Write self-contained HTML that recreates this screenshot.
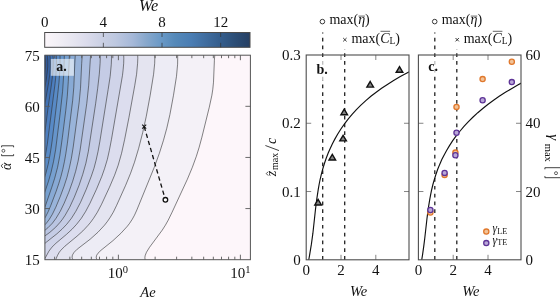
<!DOCTYPE html>
<html><head><meta charset="utf-8"><style>
html,body{margin:0;padding:0;background:#fff;overflow:hidden;}
svg{display:block;will-change:transform;}
text{font-family:"Liberation Serif",serif;fill:#111;}
</style></head><body>
<svg width="560" height="298" viewBox="0 0 560 298">
<defs><clipPath id="clipa"><rect x="44.9" y="55.2" width="205.5" height="204.5"/></clipPath>
<clipPath id="clipb"><rect x="306.2" y="55.0" width="102.8" height="204.8"/></clipPath>
<clipPath id="clipc"><rect x="418.4" y="55.0" width="102.6" height="204.8"/></clipPath>
<linearGradient id="cbg" x1="0" x2="1" y1="0" y2="0"><stop offset="0.0000" stop-color="#fbf6fa"/><stop offset="0.0607" stop-color="#f3f0f6"/><stop offset="0.1429" stop-color="#e6e5f0"/><stop offset="0.2000" stop-color="#dcdcec"/><stop offset="0.2857" stop-color="#c9cfe3"/><stop offset="0.3429" stop-color="#bec8e0"/><stop offset="0.4286" stop-color="#a5b8d8"/><stop offset="0.4929" stop-color="#88a8cc"/><stop offset="0.5714" stop-color="#6898c6"/><stop offset="0.6357" stop-color="#5589b9"/><stop offset="0.7143" stop-color="#4a7db3"/><stop offset="0.7857" stop-color="#406d9f"/><stop offset="0.8571" stop-color="#345d8c"/><stop offset="0.9286" stop-color="#2c4e76"/><stop offset="1.0000" stop-color="#263f63"/></linearGradient></defs>
<g clip-path="url(#clipa)"><rect x="44.9" y="55.2" width="205.5" height="204.5" fill="#fdf6fa"/><path d="M43.9 53.2L214.9 53.2 214.4 60.2 213.5 82.2 212.8 89.2 211.9 95.2 209.3 107.2 201.9 137.2 199.2 147.2 196.4 156.2 192.4 167.2 187.4 179.2 172.1 212.2 168.2 220.2 165.4 225.2 162.2 230.2 149.6 247.2 146.5 252.2 145.3 255.2 144.9 257.2 145.0 259.2 145.6 261.2 42.9 261.2 42.9 53.2Z" fill="#f4f1f7"/><path d="M43.9 53.2L177.6 53.2 177.7 58.2 177.6 64.2 176.5 76.2 173.5 95.2 169.9 114.6 166.8 128.2 163.5 140.2 159.4 153.2 154.3 167.2 136.9 209.9 134.5 215.2 132.3 219.2 129.7 223.2 127.4 226.2 120.9 233.3 112.9 240.7 101.1 250.2 98.0 253.2 96.7 255.2 96.2 257.2 96.6 259.2 98.0 261.2 42.9 261.2 42.9 53.2Z" fill="#edecf5"/><path d="M43.9 53.2L154.7 53.2 154.8 58.2 154.7 63.2 153.6 74.2 150.2 95.2 146.3 116.2 142.8 132.2 138.7 148.2 134.5 162.2 130.6 173.2 125.7 185.2 116.7 205.2 113.3 212.2 110.3 217.2 107.6 221.2 104.5 225.2 98.0 232.2 90.2 239.2 77.2 249.2 74.2 252.2 72.9 254.2 72.4 255.2 72.1 257.2 72.3 258.2 72.7 259.2 73.4 260.2 74.4 261.2 42.9 261.2 42.9 53.2Z" fill="#e4e4f0"/><path d="M43.9 53.2L137.6 53.2 137.7 54.2 137.8 59.2 137.6 64.2 136.4 75.2 134.6 86.2 128.5 120.2 124.5 140.2 121.6 153.2 118.2 165.2 114.6 175.2 109.5 187.2 101.6 204.2 97.4 212.2 93.6 218.2 90.7 222.2 88.2 225.2 82.9 230.9 77.0 236.2 64.9 246.2 60.9 250.2 59.3 252.2 57.6 255.2 56.3 258.2 55.6 261.2 42.9 261.2 42.9 53.2Z" fill="#dcddee"/><path d="M43.9 53.2L123.6 53.2 123.8 59.2 123.3 68.2 122.1 78.2 110.4 145.2 108.3 155.2 106.3 163.2 104.1 170.2 101.1 178.2 95.6 191.2 89.5 204.2 85.2 212.2 81.4 218.2 76.7 224.2 72.1 229.2 66.7 234.2 56.0 243.2 51.9 247.2 48.9 251.2 45.1 258.2 43.1 261.2 42.9 261.2 42.9 53.2Z" fill="#d0d4e9"/><path d="M43.9 53.2L111.4 53.2 111.5 59.2 111.0 68.2 109.7 79.2 99.0 146.2 97.3 155.2 95.4 163.2 93.3 170.2 90.6 178.2 85.5 191.2 80.1 203.2 75.9 211.2 71.5 218.2 66.8 224.2 62.0 229.2 56.9 233.8 46.3 242.2 42.9 245.2 42.9 53.2Z" fill="#c5cce5"/><path d="M43.9 53.2L100.4 53.2 100.1 63.2 99.3 74.2 97.7 88.2 95.7 103.2 88.4 151.2 85.9 163.2 82.8 174.2 79.1 185.2 74.3 197.2 69.7 207.2 65.2 215.2 62.5 219.2 60.2 222.2 55.7 227.2 49.9 232.3 42.9 237.4 42.9 53.2Z" fill="#bac5e2"/><path d="M43.9 53.2L90.7 53.2 88.7 85.2 86.8 103.2 80.1 150.2 78.1 161.2 75.7 171.2 72.7 181.2 68.8 192.2 64.2 203.2 60.3 211.2 56.1 218.2 52.4 223.2 47.9 227.8 42.9 231.9 42.9 53.2Z" fill="#acbedf"/><path d="M43.9 53.2L82.4 53.2 81.7 63.2 80.5 88.2 79.2 102.2 73.2 147.2 71.4 158.2 69.5 167.2 67.0 177.2 64.1 186.2 60.4 196.2 55.8 207.2 52.4 214.2 49.4 219.2 46.4 223.2 42.9 226.8 42.9 53.2Z" fill="#99b4da"/><path d="M43.9 53.2L75.4 53.2 74.8 63.2 73.8 87.2 72.7 100.2 67.4 143.2 65.9 153.2 64.5 161.2 62.8 169.2 61.0 176.2 58.9 183.2 56.2 191.2 50.9 205.2 48.4 211.2 45.9 216.2 42.9 221.0 42.9 53.2Z" fill="#88aad5"/><path d="M43.9 53.2L69.5 53.2 68.3 81.2 67.3 96.2 65.8 110.2 62.4 137.2 59.9 155.2 57.6 167.2 54.7 178.2 51.8 187.2 44.6 208.2 42.9 212.5 42.9 53.2Z" fill="#76a0d0"/><path d="M43.9 53.2L64.4 53.2 63.8 73.2 62.6 91.2 60.3 112.2 55.7 149.2 53.6 161.2 51.1 172.2 48.5 181.2 42.9 197.8 42.9 53.2Z" fill="#6695cb"/><path d="M43.9 53.2L60.0 53.2 60.1 61.2 59.7 73.2 58.6 86.2 56.6 104.2 51.6 145.2 49.8 156.2 48.0 165.2 45.9 173.2 42.9 182.6 42.9 53.2Z" fill="#588ac6"/><path d="M43.9 53.2L56.1 53.2 56.5 63.2 56.1 72.2 55.3 81.2 48.3 137.2 45.9 153.2 44.5 160.2 42.9 167.0 42.9 53.2Z" fill="#4c7ebf"/><path d="M43.9 53.2L52.7 53.2 53.2 58.2 53.2 64.2 52.9 72.2 52.0 80.2 48.1 107.2 44.5 135.2 42.9 146.2 42.9 53.2Z" fill="#4172b5"/><path d="M43.9 53.2L49.7 53.2 50.2 58.2 50.4 64.2 50.0 71.2 49.3 78.2 45.1 103.2 42.9 118.5 42.9 53.2Z" fill="#3865a8"/><path d="M43.9 53.2L47.0 53.2 47.7 59.2 47.8 65.2 47.4 71.2 46.5 78.2 42.9 97.2 42.9 53.2Z" fill="#30599a"/><path d="M43.9 53.2L44.5 53.2 45.0 56.2 45.4 60.2 45.4 65.2 45.2 69.2 44.7 74.2 42.9 83.9 42.9 53.2Z" fill="#2a4e8c"/><path d="M43.0 57.2L43.3 63.2 42.9 70.6 42.9 56.8Z" fill="#264680"/><path d="M214.9 53.2L214.4 60.2 213.5 82.2 212.8 89.2 211.9 95.2 209.3 107.2 201.9 137.2 199.2 147.2 196.4 156.2 192.4 167.2 187.4 179.2 172.1 212.2 168.2 220.2 165.4 225.2 162.2 230.2 149.6 247.2 146.5 252.2 145.3 255.2 144.9 257.2 145.0 259.2 145.6 261.2M177.6 53.2L177.7 58.2 177.6 64.2 176.5 76.2 173.5 95.2 169.9 114.6 166.8 128.2 163.5 140.2 159.4 153.2 154.3 167.2 136.9 209.9 134.5 215.2 132.3 219.2 129.7 223.2 127.4 226.2 120.9 233.3 112.9 240.7 101.1 250.2 98.0 253.2 96.7 255.2 96.2 257.2 96.6 259.2 98.0 261.2M154.7 53.2L154.8 58.2 154.7 63.2 153.6 74.2 150.2 95.2 146.3 116.2 142.8 132.2 138.7 148.2 134.5 162.2 130.6 173.2 125.7 185.2 116.7 205.2 113.3 212.2 110.3 217.2 107.6 221.2 104.5 225.2 98.0 232.2 90.2 239.2 77.2 249.2 74.2 252.2 72.9 254.2 72.4 255.2 72.1 257.2 72.3 258.2 72.7 259.2 73.4 260.2 74.4 261.2M137.6 53.2L137.8 58.2 137.6 63.2 136.6 74.2 134.8 85.2 129.0 117.2 124.7 139.2 121.6 153.2 118.2 165.2 114.6 175.2 109.5 187.2 101.6 204.2 97.4 212.2 93.6 218.2 90.7 222.2 88.2 225.2 82.9 230.9 77.0 236.2 64.9 246.2 60.9 250.2 59.3 252.2 57.6 255.2 56.3 258.2 55.6 261.2M123.6 53.2L123.8 58.2 123.7 63.2 123.2 69.2 122.5 75.2 111.5 139.2 109.4 150.2 107.4 159.2 104.7 168.2 101.9 176.2 96.5 189.2 90.0 203.2 85.8 211.2 81.4 218.2 76.7 224.2 72.1 229.2 66.7 234.2 56.0 243.2 51.9 247.2 48.9 251.2 45.1 258.2 43.1 261.2M111.4 53.2L111.5 58.2 111.3 64.2 110.2 76.2 108.2 89.2 99.9 141.2 98.1 151.2 96.1 160.2 94.0 168.2 91.3 176.2 86.3 189.2 80.6 202.2 75.9 211.2 71.5 218.2 66.8 224.2 62.0 229.2 56.9 233.8 46.3 242.2 42.9 245.2M100.4 53.2L100.1 63.2 99.3 74.2 97.7 88.2 95.7 103.2 88.4 151.2 85.9 163.2 82.8 174.2 79.1 185.2 74.3 197.2 69.7 207.2 65.2 215.2 62.5 219.2 60.2 222.2 55.7 227.2 49.9 232.3 42.9 237.4M90.7 53.2L88.7 85.2 86.8 103.2 80.1 150.2 78.1 161.2 75.7 171.2 72.7 181.2 68.8 192.2 64.2 203.2 60.3 211.2 56.1 218.2 52.4 223.2 47.9 227.8 42.9 231.9M82.4 53.2L81.7 63.2 80.5 88.2 79.2 102.2 73.2 147.2 71.4 158.2 69.5 167.2 67.0 177.2 64.1 186.2 60.4 196.2 55.8 207.2 52.4 214.2 49.4 219.2 46.4 223.2 42.9 226.8M75.4 53.2L74.8 63.2 73.8 87.2 72.7 100.2 67.4 143.2 65.9 153.2 64.5 161.2 62.8 169.2 61.0 176.2 58.9 183.2 56.2 191.2 50.9 205.2 48.4 211.2 45.9 216.2 42.9 221.0M69.5 53.2L68.3 81.2 67.3 96.2 65.8 110.2 62.4 137.2 59.9 155.2 57.6 167.2 54.7 178.2 51.8 187.2 44.6 208.2 42.9 212.5M64.4 53.2L63.8 73.2 62.6 91.2 60.3 112.2 55.7 149.2 53.6 161.2 51.1 172.2 48.5 181.2 42.9 197.8M60.0 53.2L60.1 60.2 60.0 67.2 59.0 82.2 57.3 98.2 52.1 141.2 50.3 153.2 48.2 164.2 45.9 173.2 42.9 182.6M56.1 53.2L56.5 60.2 56.4 67.2 55.9 75.2 55.1 83.2 47.3 144.2 45.3 156.2 42.9 167.0M52.7 53.2L53.2 58.2 53.3 63.2 53.1 69.2 52.5 76.2 51.5 84.2 48.0 108.2 44.5 135.2 42.9 146.2M49.7 53.2L50.2 58.2 50.4 63.2 50.3 68.2 49.8 74.2 48.7 82.2 44.9 104.2 42.9 118.5M47.0 53.2L47.5 57.2 47.8 61.2 47.8 66.2 47.4 71.2 46.2 80.2 42.9 97.2M44.5 53.2L45.0 56.2 45.4 60.2 45.4 67.2 44.5 75.2 42.9 83.9M42.9 56.8L43.3 63.2 42.9 70.6" fill="none" stroke="#303030" stroke-width="0.6"/></g><rect x="50.8" y="58.9" width="23.1" height="16.9" fill="#fff" fill-opacity="0.6"/><text x="61.60" y="70.70" font-size="14.00" text-anchor="middle" font-weight="bold">a.</text><path d="M54.61 259.70v-3.0M54.61 55.20v3.0M69.85 259.70v-3.0M69.85 55.20v3.0M81.67 259.70v-3.0M81.67 55.20v3.0M91.33 259.70v-3.0M91.33 55.20v3.0M99.50 259.70v-3.0M99.50 55.20v3.0M106.58 259.70v-3.0M106.58 55.20v3.0M112.82 259.70v-3.0M112.82 55.20v3.0M118.40 259.70v-5.0M118.40 55.20v5.0M155.13 259.70v-3.0M155.13 55.20v3.0M176.61 259.70v-3.0M176.61 55.20v3.0M191.85 259.70v-3.0M191.85 55.20v3.0M203.67 259.70v-3.0M203.67 55.20v3.0M213.33 259.70v-3.0M213.33 55.20v3.0M221.50 259.70v-3.0M221.50 55.20v3.0M228.58 259.70v-3.0M228.58 55.20v3.0M234.82 259.70v-3.0M234.82 55.20v3.0M240.40 259.70v-5.0M240.40 55.20v5.0M44.90 208.57h5M250.40 208.57h-5M44.90 157.45h5M250.40 157.45h-5M44.90 106.32h5M250.40 106.32h-5" stroke="#5a5a5a" stroke-width="0.9" fill="none"/><rect x="44.90" y="55.20" width="205.50" height="204.50" fill="none" stroke="#555" stroke-width="1"/><text x="39.80" y="265.00" font-size="15.00" text-anchor="end">15</text><text x="39.80" y="213.88" font-size="15.00" text-anchor="end">30</text><text x="39.80" y="162.75" font-size="15.00" text-anchor="end">45</text><text x="39.80" y="111.62" font-size="15.00" text-anchor="end">60</text><text x="39.80" y="60.50" font-size="15.00" text-anchor="end">75</text><text x="107.80" y="277.90" font-size="15.00">10</text><text x="122.80" y="272.50" font-size="10.50">0</text><text x="230.30" y="277.90" font-size="15.00">10</text><text x="245.30" y="272.50" font-size="10.50">1</text><text x="148.00" y="296.80" font-size="14.50" text-anchor="middle" font-style="italic">Ae</text><g transform="translate(11.2,169.9) rotate(-90)"><text x="0" y="0" font-size="14" font-style="italic">α</text></g><path d="M2.9 163.8L1.2 165.9L2.9 168" fill="none" stroke="#111" stroke-width="0.75"/><path d="M1.6 147.3V145.8H13.6V147.3M1.6 154.2V155.7H13.6V154.2" fill="none" stroke="#111" stroke-width="0.8"/><circle cx="3.4" cy="150.8" r="1.45" fill="none" stroke="#111" stroke-width="0.65"/><path d="M144.2 126.6L165.4 199.8" stroke="#111" stroke-width="1.3" stroke-dasharray="4.4 3.0" fill="none"/><path d="M142.2 124.6l4 4m0 -4l-4 4" stroke="#111" stroke-width="1.1"/><circle cx="165.4" cy="199.8" r="2.3" fill="#fff" stroke="#111" stroke-width="1.3"/>
<rect x="44.7" y="32.5" width="205.3" height="14.8" fill="url(#cbg)" stroke="#4a4a4a" stroke-width="1"/><path d="M103.36 32.50v4.5M103.36 47.30v-4.5M162.01 32.50v4.5M162.01 47.30v-4.5M220.67 32.50v4.5M220.67 47.30v-4.5" stroke="#333" stroke-width="0.9" stroke-opacity="0.8"/><text x="44.70" y="27.30" font-size="15.00" text-anchor="middle">0</text><text x="103.36" y="27.30" font-size="15.00" text-anchor="middle">4</text><text x="162.01" y="27.30" font-size="15.00" text-anchor="middle">8</text><text x="220.67" y="27.30" font-size="15.00" text-anchor="middle">12</text><text x="148.60" y="10.90" font-size="16.20" text-anchor="middle" font-style="italic">We</text>
<path d="M322.7 259.8V32.6" stroke="#222" stroke-width="1.3" stroke-dasharray="3.7 4.1" stroke-dashoffset="0.0" fill="none"/><path d="M344.7 259.8V49.1" stroke="#222" stroke-width="1.3" stroke-dasharray="3.7 4.1" stroke-dashoffset="0.0" fill="none"/><g clip-path="url(#clipb)"><path d="M413.8 69.5L407.4 72.7 400.3 76.6 393.6 80.5 387.4 84.4 381.6 88.3 376.2 92.2 371.2 96.0 365.8 100.6 360.9 105.1 356.4 109.6 352.3 114.2 348.5 118.7 344.5 123.9 340.9 129.0 337.6 134.2 334.7 139.4 332.3 143.9 330.2 148.5 328.2 153.0 326.2 158.2 324.5 163.3 322.9 168.5 321.5 173.7 320.1 179.5 319.2 184.0 318.3 189.2 316.7 199.6 315.5 209.3 312.9 233.2 311.4 244.2 309.8 253.9 309.0 258.5 308.0 263.0" fill="none" stroke="#111" stroke-width="1.15"/></g><path d="M318.1 199.4l3.3 5.6h-6.6z" fill="#858585" stroke="#111" stroke-width="1.4" stroke-linejoin="miter"/><path d="M332.3 154.4l3.3 5.6h-6.6z" fill="#858585" stroke="#111" stroke-width="1.4" stroke-linejoin="miter"/><path d="M343.1 135.3l3.3 5.6h-6.6z" fill="#858585" stroke="#111" stroke-width="1.4" stroke-linejoin="miter"/><path d="M344.2 109.1l3.3 5.6h-6.6z" fill="#858585" stroke="#111" stroke-width="1.4" stroke-linejoin="miter"/><path d="M370.2 81.5l3.3 5.6h-6.6z" fill="#858585" stroke="#111" stroke-width="1.4" stroke-linejoin="miter"/><path d="M399.5 66.7l3.3 5.6h-6.6z" fill="#858585" stroke="#111" stroke-width="1.4" stroke-linejoin="miter"/><rect x="311.5" y="58.8" width="22" height="21.5" fill="#fff" fill-opacity="0.7"/><text x="322.20" y="74.10" font-size="14.00" text-anchor="middle" font-weight="bold">b.</text><path d="M341.00 259.80v-5M341.00 55.00v5M375.80 259.80v-5M375.80 55.00v5M306.20 191.53h5M409.00 191.53h-5M306.20 123.27h5M409.00 123.27h-5" stroke="#666" stroke-width="0.8"/><rect x="306.20" y="55.00" width="102.80" height="204.80" fill="none" stroke="#4d4d4d" stroke-width="1.1"/><text x="306.20" y="275.20" font-size="15.00" text-anchor="middle">0</text><text x="341.00" y="275.20" font-size="15.00" text-anchor="middle">2</text><text x="375.80" y="275.20" font-size="15.00" text-anchor="middle">4</text><text x="300.80" y="264.80" font-size="15.00" text-anchor="end">0</text><text x="300.80" y="196.53" font-size="15.00" text-anchor="end">0.1</text><text x="300.80" y="128.27" font-size="15.00" text-anchor="end">0.2</text><text x="300.80" y="60.00" font-size="15.00" text-anchor="end">0.3</text><text x="358.60" y="295.60" font-size="14.50" text-anchor="middle" font-style="italic">We</text><g transform="translate(276,176.3) rotate(-90)"><text x="0" y="0" font-size="14" font-style="italic">z</text><text x="6.3" y="2.1" font-size="10">max</text><text x="32.2" y="0" font-size="14" font-style="italic">c</text></g><path d="M268.2 171.6L266.3 173.6L268.2 175.6" fill="none" stroke="#111" stroke-width="0.75"/><path d="M279.0 150.6L265.4 145.5" stroke="#111" stroke-width="0.8"/><circle cx="322.4" cy="21.6" r="2.3" fill="none" stroke="#222" stroke-width="0.9"/><text x="329.40" y="24.10" font-size="14.00">max(</text><text x="358.17" y="24.10" font-size="14.00" font-style="italic">η</text><text x="365.11" y="24.10" font-size="14.00">)</text><path d="M358.47 16.1H364.91" stroke="#222" stroke-width="0.7"/><path d="M343.2 38l3.4 3.4m0 -3.4l-3.4 3.4" stroke="#222" stroke-width="0.9"/><text x="351.40" y="42.50" font-size="14.00">max(</text><text x="380.17" y="42.50" font-size="14.00" font-style="italic">C</text><text x="389.50" y="44.10" font-size="9.50">L</text><text x="395.31" y="42.50" font-size="14.00">)</text><path d="M380.47 31.3H390.10" stroke="#222" stroke-width="0.7"/>
<path d="M434.8 259.8V32.6" stroke="#222" stroke-width="1.3" stroke-dasharray="3.7 4.1" stroke-dashoffset="0.0" fill="none"/><path d="M456.8 259.8V49.1" stroke="#222" stroke-width="1.3" stroke-dasharray="3.7 4.1" stroke-dashoffset="0.0" fill="none"/><g clip-path="url(#clipc)"><path d="M525.0 81.1L518.2 84.8 511.9 88.4 505.8 92.1 499.2 96.3 493.9 100.0 488.1 104.2 482.8 108.5 477.8 112.7 473.1 117.0 468.2 121.9 464.2 126.1 460.1 131.0 456.2 135.9 452.7 140.7 449.5 145.6 446.6 150.5 444.3 154.7 441.8 159.6 439.7 164.4 437.7 169.3 436.0 174.2 434.5 179.0 432.9 184.5 431.6 190.0 430.7 194.3 429.8 199.1 428.2 208.9 426.9 219.2 424.7 238.7 423.7 246.6 422.5 255.1 421.2 263.0" fill="none" stroke="#111" stroke-width="1.15"/></g><circle cx="430.4" cy="212.5" r="2.6" fill="#f2c398" stroke="#e0782c" stroke-width="1.3"/><circle cx="444.6" cy="175.0" r="2.6" fill="#f2c398" stroke="#e0782c" stroke-width="1.3"/><circle cx="455.4" cy="152.6" r="2.6" fill="#f2c398" stroke="#e0782c" stroke-width="1.3"/><circle cx="456.5" cy="106.9" r="2.6" fill="#f2c398" stroke="#e0782c" stroke-width="1.3"/><circle cx="482.6" cy="79.1" r="2.6" fill="#f2c398" stroke="#e0782c" stroke-width="1.3"/><circle cx="511.8" cy="61.8" r="2.6" fill="#f2c398" stroke="#e0782c" stroke-width="1.3"/><circle cx="430.4" cy="210.0" r="2.6" fill="#b9a7d8" stroke="#5e3497" stroke-width="1.3"/><circle cx="444.6" cy="172.9" r="2.6" fill="#b9a7d8" stroke="#5e3497" stroke-width="1.3"/><circle cx="455.4" cy="155.3" r="2.6" fill="#b9a7d8" stroke="#5e3497" stroke-width="1.3"/><circle cx="456.5" cy="132.7" r="2.6" fill="#b9a7d8" stroke="#5e3497" stroke-width="1.3"/><circle cx="482.6" cy="100.2" r="2.6" fill="#b9a7d8" stroke="#5e3497" stroke-width="1.3"/><circle cx="511.8" cy="82.1" r="2.6" fill="#b9a7d8" stroke="#5e3497" stroke-width="1.3"/><circle cx="486.3" cy="231.6" r="2.6" fill="#f2c398" stroke="#e0782c" stroke-width="1.3"/><circle cx="486.3" cy="243.1" r="2.6" fill="#b9a7d8" stroke="#5e3497" stroke-width="1.3"/><text x="492.60" y="232.00" font-size="11.50" font-style="italic">γ</text><text x="497.13" y="233.60" font-size="8.20">LE</text><text x="492.60" y="243.60" font-size="11.50" font-style="italic">γ</text><text x="497.13" y="245.20" font-size="8.20">TE</text><rect x="423.5" y="58.8" width="20" height="17" fill="#fff" fill-opacity="0.7"/><text x="433.20" y="70.60" font-size="14.00" text-anchor="middle" font-weight="bold">c.</text><path d="M453.20 259.80v-5M453.20 55.00v5M488.00 259.80v-5M488.00 55.00v5M418.40 191.53h5M521.00 191.53h-5M418.40 123.27h5M521.00 123.27h-5" stroke="#666" stroke-width="0.8"/><rect x="418.40" y="55.00" width="102.60" height="204.80" fill="none" stroke="#4d4d4d" stroke-width="1.1"/><text x="418.40" y="275.20" font-size="15.00" text-anchor="middle">0</text><text x="453.20" y="275.20" font-size="15.00" text-anchor="middle">2</text><text x="488.00" y="275.20" font-size="15.00" text-anchor="middle">4</text><text x="525.60" y="264.80" font-size="15.00" text-anchor="start">0</text><text x="525.60" y="196.53" font-size="15.00" text-anchor="start">20</text><text x="525.60" y="128.27" font-size="15.00" text-anchor="start">40</text><text x="525.60" y="60.00" font-size="15.00" text-anchor="start">60</text><text x="470.80" y="295.60" font-size="14.50" text-anchor="middle" font-style="italic">We</text><g transform="translate(548.6,134.2) rotate(90)"><text x="0" y="0" font-size="15" font-style="italic">γ</text><text x="9.6" y="3.1" font-size="10.5">max</text></g><path d="M544.9 169.3V167.7H560.5M544.9 176.1V177.7H560.5" fill="none" stroke="#111" stroke-width="0.8"/><circle cx="556.0" cy="173.2" r="1.5" fill="none" stroke="#111" stroke-width="0.65"/><circle cx="434.7" cy="21.6" r="2.3" fill="none" stroke="#222" stroke-width="0.9"/><text x="441.70" y="24.10" font-size="14.00">max(</text><text x="470.47" y="24.10" font-size="14.00" font-style="italic">η</text><text x="477.41" y="24.10" font-size="14.00">)</text><path d="M470.77 16.1H477.21" stroke="#222" stroke-width="0.7"/><path d="M455.5 38l3.4 3.4m0 -3.4l-3.4 3.4" stroke="#222" stroke-width="0.9"/><text x="463.70" y="42.50" font-size="14.00">max(</text><text x="492.47" y="42.50" font-size="14.00" font-style="italic">C</text><text x="501.80" y="44.10" font-size="9.50">L</text><text x="507.61" y="42.50" font-size="14.00">)</text><path d="M492.77 31.3H502.40" stroke="#222" stroke-width="0.7"/>
</svg></body></html>
